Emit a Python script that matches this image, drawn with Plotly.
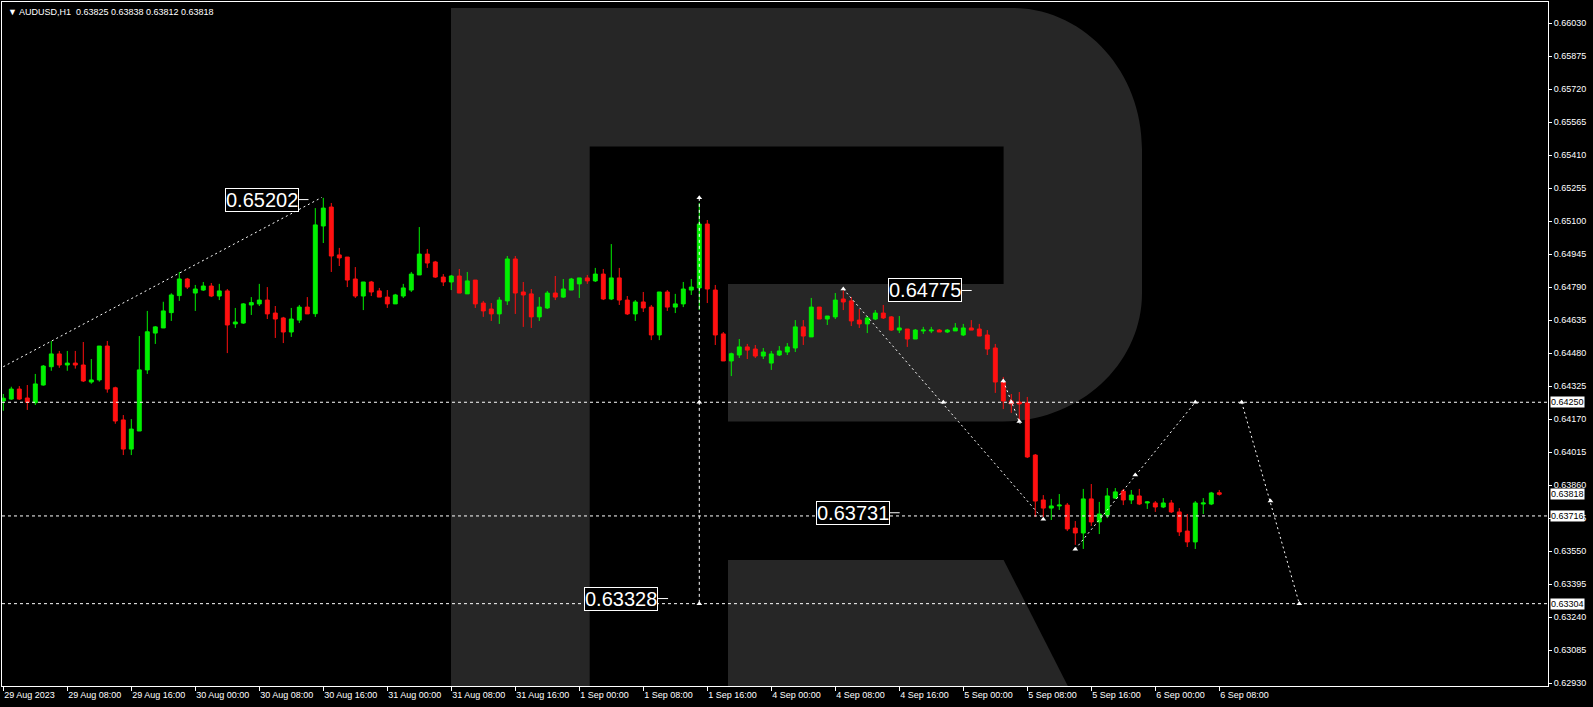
import plotly.graph_objects as go

# ---------------- data (AUDUSD, H1) ----------------
bar_index = list(range(153))
opens = [0.64256,0.64265,0.64312,0.64270,0.64248,0.64331,0.64417,0.64477,0.64425,0.64434,
         0.64425,0.64345,0.64355,0.64514,0.64318,0.64167,0.64030,0.64115,0.64402,0.64575,
         0.64599,0.64671,0.64751,0.64829,0.64763,0.64777,0.64796,0.64749,0.64773,0.64618,
         0.64622,0.64707,0.64712,0.64730,0.64669,0.64646,0.64580,0.64636,0.64697,0.64666,
         0.65078,0.65167,0.64942,0.64932,0.64829,0.64749,0.64815,0.64773,0.64744,0.64712,
         0.64749,0.64777,0.64848,0.64946,0.64909,0.64838,0.64815,0.64843,0.64759,0.64824,
         0.64716,0.64688,0.64665,0.64726,0.64923,0.64768,0.64759,0.64651,0.64693,0.64763,
         0.64744,0.64777,0.64806,0.64834,0.64820,0.64852,0.64735,0.64834,0.64730,0.64665,
         0.64721,0.64697,0.64566,0.64768,0.64697,0.64712,0.64777,0.64787,0.65087,0.64777,
         0.64571,0.64444,0.64472,0.64510,0.64500,0.64467,0.64434,0.64472,0.64486,0.64505,
         0.64604,0.64557,0.64697,0.64641,0.64651,0.64735,0.64726,0.64636,0.64618,0.64641,
         0.64669,0.64651,0.64589,0.64594,0.64547,0.64585,0.64585,0.64589,0.64580,0.64585,
         0.64566,0.64599,0.64594,0.64566,0.64505,0.64345,0.64256,0.64251,0.64247,0.64002,
         0.63791,0.63753,0.63763,0.63767,0.63659,0.63636,0.63796,0.63688,0.63720,0.63800,
         0.63833,0.63791,0.63810,0.63777,0.63777,0.63758,0.63777,0.63735,0.63645,0.63594,
         0.63772,0.63772,0.63825]
highs = [0.64289,0.64323,0.64326,0.64331,0.64383,0.64425,0.64538,0.64491,0.64491,0.64491,
         0.64533,0.64453,0.64514,0.64538,0.64323,0.64190,0.64171,0.64561,0.64679,0.64608,
         0.64722,0.64762,0.64862,0.64834,0.64801,0.64815,0.64810,0.64806,0.64782,0.64693,
         0.64716,0.64744,0.64806,0.64791,0.64702,0.64651,0.64693,0.64707,0.64744,0.65162,
         0.65210,0.65186,0.64975,0.64932,0.64885,0.64815,0.64820,0.64787,0.64777,0.64759,
         0.64806,0.64862,0.65073,0.64970,0.64914,0.64852,0.64848,0.64876,0.64862,0.64824,
         0.64726,0.64716,0.64744,0.64937,0.64937,0.64815,0.64782,0.64744,0.64773,0.64843,
         0.64829,0.64834,0.64834,0.64848,0.64881,0.64876,0.64993,0.64881,0.64749,0.64730,
         0.64768,0.64707,0.64768,0.64777,0.64759,0.64815,0.64829,0.65186,0.65106,0.64801,
         0.64580,0.64483,0.64547,0.64524,0.64519,0.64505,0.64491,0.64514,0.64528,0.64636,
         0.64636,0.64740,0.64697,0.64655,0.64763,0.64775,0.64744,0.64688,0.64655,0.64683,
         0.64707,0.64655,0.64655,0.64594,0.64594,0.64604,0.64604,0.64594,0.64594,0.64622,
         0.64618,0.64636,0.64618,0.64589,0.64524,0.64369,0.64289,0.64298,0.64275,0.64007,
         0.63814,0.63796,0.63819,0.63777,0.63692,0.63843,0.63866,0.63782,0.63847,0.63847,
         0.63843,0.63838,0.63843,0.63786,0.63786,0.63800,0.63791,0.63753,0.63725,0.63786,
         0.63800,0.63829,0.63838]
lows = [0.64210,0.64261,0.64261,0.64214,0.64237,0.64328,0.64398,0.64412,0.64398,0.64408,
        0.64345,0.64337,0.64347,0.64295,0.64149,0.64002,0.64002,0.64115,0.64383,0.64524,
        0.64599,0.64632,0.64726,0.64782,0.64679,0.64773,0.64744,0.64730,0.64481,0.64599,
        0.64618,0.64660,0.64702,0.64641,0.64552,0.64528,0.64557,0.64622,0.64665,0.64651,
        0.64998,0.64862,0.64890,0.64791,0.64740,0.64683,0.64749,0.64744,0.64693,0.64712,
        0.64740,0.64768,0.64848,0.64881,0.64834,0.64796,0.64777,0.64763,0.64759,0.64693,
        0.64651,0.64632,0.64618,0.64707,0.64665,0.64604,0.64599,0.64632,0.64688,0.64730,
        0.64740,0.64777,0.64740,0.64806,0.64815,0.64730,0.64730,0.64707,0.64660,0.64632,
        0.64674,0.64542,0.64542,0.64679,0.64669,0.64697,0.64754,0.64683,0.64716,0.64519,
        0.64444,0.64373,0.64458,0.64453,0.64458,0.64453,0.64402,0.64467,0.64472,0.64486,
        0.64519,0.64557,0.64641,0.64613,0.64641,0.64683,0.64608,0.64599,0.64575,0.64636,
        0.64641,0.64585,0.64575,0.64510,0.64547,0.64571,0.64575,0.64580,0.64575,0.64585,
        0.64561,0.64589,0.64561,0.64472,0.64294,0.64218,0.64200,0.64157,0.63988,0.63711,
        0.63711,0.63697,0.63744,0.63645,0.63580,0.63561,0.63669,0.63631,0.63706,0.63796,
        0.63767,0.63772,0.63767,0.63749,0.63735,0.63753,0.63730,0.63622,0.63570,0.63561,
        0.63725,0.63767,0.63812]
closes = [0.64269,0.64312,0.64265,0.64250,0.64336,0.64420,0.64477,0.64425,0.64434,0.64425,
          0.64350,0.64355,0.64514,0.64312,0.64162,0.64030,0.64124,0.64402,0.64581,0.64604,
          0.64679,0.64754,0.64829,0.64791,0.64782,0.64796,0.64749,0.64773,0.64613,0.64627,
          0.64712,0.64718,0.64730,0.64665,0.64641,0.64580,0.64641,0.64697,0.64665,0.65083,
          0.65162,0.64937,0.64928,0.64824,0.64749,0.64815,0.64768,0.64744,0.64712,0.64754,
          0.64787,0.64852,0.64946,0.64904,0.64838,0.64815,0.64843,0.64763,0.64820,0.64712,
          0.64679,0.64665,0.64730,0.64923,0.64763,0.64754,0.64651,0.64697,0.64763,0.64744,
          0.64782,0.64829,0.64834,0.64820,0.64852,0.64735,0.64834,0.64730,0.64665,0.64721,
          0.64693,0.64566,0.64768,0.64697,0.64712,0.64782,0.64791,0.65087,0.64782,0.64566,
          0.64444,0.64478,0.64510,0.64495,0.64467,0.64486,0.64477,0.64491,0.64510,0.64604,
          0.64561,0.64697,0.64641,0.64655,0.64730,0.64721,0.64632,0.64618,0.64646,0.64669,
          0.64646,0.64589,0.64599,0.64547,0.64589,0.64589,0.64589,0.64580,0.64589,0.64599,
          0.64599,0.64589,0.64561,0.64500,0.64345,0.64256,0.64242,0.64242,0.63993,0.63786,
          0.63753,0.63763,0.63767,0.63655,0.63636,0.63796,0.63688,0.63725,0.63810,0.63829,
          0.63791,0.63814,0.63772,0.63782,0.63758,0.63777,0.63735,0.63641,0.63594,0.63777,
          0.63777,0.63824,0.63818]

# x-axis labels (every 8 bars)
xtick_bars = list(range(0, 153, 8))
xtick_labels = ["29 Aug 2023", "29 Aug 08:00", "29 Aug 16:00", "30 Aug 00:00", "30 Aug 08:00",
                "30 Aug 16:00", "31 Aug 00:00", "31 Aug 08:00", "31 Aug 16:00", "1 Sep 00:00",
                "1 Sep 08:00", "1 Sep 16:00", "4 Sep 00:00", "4 Sep 08:00", "4 Sep 16:00",
                "5 Sep 00:00", "5 Sep 08:00", "5 Sep 16:00", "6 Sep 00:00", "6 Sep 08:00"]
# y-axis ticks
ytick_vals = [round(0.62930 + 0.00155 * k, 5) for k in range(21)]
ytick_labels = [f"{v:.5f}" for v in ytick_vals]

# horizontal levels and price tags
levels = [0.64250, 0.63716, 0.63304]
price_tags = [0.64250, 0.63818, 0.63716, 0.63304]

# boxed price labels: (right-edge bar position, price)
label_bars = [36.9, 119.8, 110.8, 81.85]
label_prices = [0.65202, 0.64775, 0.63731, 0.63328]

# drawn lines (bar, price)
trend_x = [0, 39.8]
trend_y = [0.64417, 0.65212]
vert_x = [87, 87]
vert_y = [0.65210, 0.63304]
vert_mark_y = [0.65210, 0.64250, 0.63304]
fa_x = [105, 130]
fa_y = [0.64782, 0.63700]
fa_mark_x = [105, 117.5, 130]
fa_mark_y = [0.64782, 0.64250, 0.63700]
fd_x = [125, 127.1]
fd_y = [0.64350, 0.64149]
fd_mark_x = [125, 126, 127]
fd_mark_y = [0.64350, 0.64250, 0.64160]
fb_x = [134, 149]
fb_y = [0.63560, 0.64250]
fb_mark_x = [134, 141.5, 149]
fb_mark_y = [0.63560, 0.63908, 0.64250]
fc_x = [154.8, 162]
fc_y = [0.64250, 0.63304]
fc_mark_x = [154.8, 158.4, 162]
fc_mark_y = [0.64250, 0.63786, 0.63304]

GREEN = "#00F000"
RED = "#FF1010"
WHITE = "#FFFFFF"
WM = "rgb(38,38,38)"
FONT = "Liberation Sans"
DASH = "3px,3px"

fig = go.Figure()
fig.add_trace(go.Candlestick(
    x=bar_index, open=opens, high=highs, low=lows, close=closes,
    increasing=dict(line=dict(color=GREEN, width=1), fillcolor=GREEN),
    decreasing=dict(line=dict(color=RED, width=1), fillcolor=RED),
    whiskerwidth=0, showlegend=False, hoverinfo="skip"))

def add_line(xs, ys, dash=DASH):
    fig.add_trace(go.Scatter(x=xs, y=ys, mode="lines", showlegend=False, hoverinfo="skip",
                             line=dict(color=WHITE, width=1, dash=dash)))

def add_marks(xs, ys):
    fig.add_trace(go.Scatter(x=xs, y=ys, mode="markers", showlegend=False, hoverinfo="skip",
                             marker=dict(symbol="triangle-up", size=5, color=WHITE)))

add_line(trend_x, trend_y, "2px,3px")
add_line(vert_x, vert_y)
add_marks([87] * 3, vert_mark_y)
add_line(fa_x, fa_y, "2px,3px")
add_marks(fa_mark_x, fa_mark_y)
add_line(fd_x, fd_y, "2px,3px")
add_marks(fd_mark_x, fd_mark_y)
add_line(fb_x, fb_y, "2px,3px")
add_marks(fb_mark_x, fb_mark_y)
add_line(fc_x, fc_y, "2px,3px")
add_marks(fc_mark_x, fc_mark_y)

# ---------------- watermark "R" (pixel geometry of plot area) ----------------
PL, PT, PW, PH = 2, 2, 1546, 684
def P(x, y):
    return f"{(x - PL) / PW:.5f},{(PT + PH - y) / PH:.5f}"

k = 0.5523
r_path = ("M " + P(451, 8) + " L " + P(1012, 8) +
          " C " + P(1012 + k * 130, 8) + " " + P(1142, 149 - k * 141) + " " + P(1142, 149) +
          " L " + P(1142, 293) +
          " C " + P(1142, 293 + k * 128.5) + " " + P(1003 + k * 139, 421.5) + " " + P(1003, 421.5) +
          " L " + P(728, 421.5) + " L " + P(728, 284) + " L " + P(1003.6, 284) +
          " L " + P(1003.6, 146.5) + " L " + P(589.7, 146.5) + " L " + P(589.7, 686) +
          " L " + P(451, 686) + " Z")
leg_path = ("M " + P(728, 560) + " L " + P(1003.6, 560) + " L " + P(1067.8, 686) +
            " L " + P(728, 686) + " Z")
for pth in (r_path, leg_path):
    fig.add_shape(type="path", path=pth, xref="paper", yref="paper",
                  fillcolor=WM, line=dict(width=0), layer="below")

# horizontal dashed levels
for lv in levels:
    fig.add_shape(type="line", xref="paper", x0=0, x1=1, yref="y", y0=lv, y1=lv,
                  line=dict(color=WHITE, width=1, dash=DASH))

# boxed labels with connectors
for bx, pr in zip(label_bars, label_prices):
    fig.add_annotation(x=bx, y=pr, xref="x", yref="y", text=f"{pr:.5f}", showarrow=False,
                       xanchor="right", yanchor="middle",
                       font=dict(family=FONT, size=20, color=WHITE),
                       bgcolor="black", bordercolor=WHITE, borderwidth=1, borderpad=0)
    fig.add_shape(type="line", xref="x", yref="y", x0=bx, x1=bx + 1.25, y0=pr, y1=pr,
                  line=dict(color=WHITE, width=1))

# price tags on the axis
for pt in price_tags:
    fig.add_annotation(x=1, y=pt, xref="paper", yref="y", text=f"{pt:.5f}", showarrow=False,
                       xanchor="left", yanchor="middle", xshift=2,
                       font=dict(family=FONT, size=9, color="black"),
                       bgcolor=WHITE, borderpad=0)

# header
header = ("\u25BC AUDUSD,H1\u00a0\u00a0" +
          " ".join(f"{v:.5f}" for v in (opens[-1], highs[-1], lows[-1], closes[-1])))
fig.add_annotation(x=0, y=1, xref="paper", yref="paper", text=header, showarrow=False,
                   xanchor="left", yanchor="top", xshift=4, yshift=-3,
                   font=dict(family=FONT, size=9, color=WHITE))

fig.update_layout(
    width=1593, height=707, autosize=False,
    margin=dict(l=2, r=45, t=2, b=21),
    paper_bgcolor="black", plot_bgcolor="black",
    font=dict(family=FONT, size=9, color=WHITE),
    showlegend=False,
    xaxis=dict(range=[-0.1625, 193.09], tickmode="array", tickvals=xtick_bars,
               ticktext=xtick_labels, ticks="outside", ticklen=4, tickcolor=WHITE,
               ticklabelposition="outside right", tickfont=dict(family=FONT, size=9, color=WHITE),
               showgrid=False, zeroline=False, showline=True, linecolor=WHITE, linewidth=1,
               mirror=True, rangeslider=dict(visible=False), fixedrange=True),
    yaxis=dict(range=[0.629173, 0.66130], side="right", tickmode="array", tickvals=ytick_vals,
               ticktext=ytick_labels, ticks="outside", ticklen=3, tickcolor=WHITE,
               tickfont=dict(family=FONT, size=9, color=WHITE),
               showgrid=False, zeroline=False, showline=True, linecolor=WHITE, linewidth=1,
               mirror=True, fixedrange=True),
)

fig.write_html("out.html", config={"displayModeBar": False},
               post_script="document.body.style.margin='0';document.body.style.overflow='hidden';")
